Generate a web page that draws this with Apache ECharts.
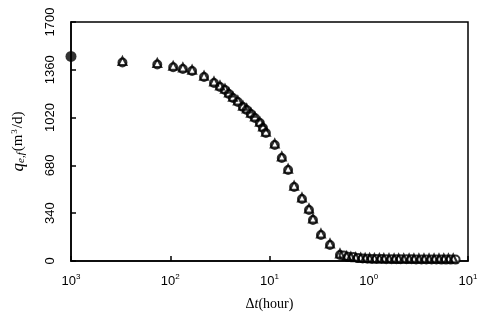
<!DOCTYPE html>
<html>
<head>
<meta charset="utf-8">
<script src="https://cdn.jsdelivr.net/npm/echarts@6/dist/echarts.min.js"></script>
<style>
  html, body { margin: 0; padding: 0; background: #fff; }
  #chart { width: 489px; height: 323px; }
</style>
</head>
<body>
<div id="chart"></div>
<script>
// measured point (filled) at start of build-up
let measuredT = [0.001];
let measuredQ = [1455];

// open circles
let circleT = [0.0033, 0.0074, 0.0107, 0.0134, 0.0166, 0.0219, 0.0276, 0.0317, 0.0356, 0.039,
  0.0428, 0.048, 0.054, 0.059, 0.065, 0.0713, 0.08, 0.086, 0.092, 0.113, 0.133,
  0.154, 0.177, 0.2125, 0.25, 0.274, 0.33, 0.407, 0.513, 0.56, 0.62, 0.7, 0.78, 0.87, 0.97,
  1.08, 1.2, 1.35, 1.5, 1.7, 1.9, 2.1, 2.4, 2.7, 3, 3.4, 3.8, 4.3, 4.8, 5.4, 6, 6.7, 7.5];
let circleQ = [1412, 1398, 1378, 1366, 1351, 1309, 1266, 1238, 1216, 1188,
  1159, 1131, 1095, 1074, 1045, 1017, 981, 946, 910, 825, 733,
  647, 526, 441, 363, 292, 185, 114, 43, 40, 30, 28, 22, 18, 16,
  15, 14, 14, 13, 13, 12, 12, 12, 12, 11, 11, 11, 11, 11, 10, 10, 10, 10];

// open triangles
let triT = [0.0033, 0.0074, 0.0107, 0.0134, 0.0166, 0.0219, 0.0276, 0.0317, 0.0356, 0.039,
  0.0428, 0.048, 0.054, 0.059, 0.065, 0.0713, 0.08, 0.086, 0.092, 0.113, 0.133,
  0.154, 0.177, 0.2125, 0.25, 0.274, 0.33, 0.407, 0.513, 0.6, 0.66, 0.74, 0.83, 0.92, 1.02,
  1.14, 1.28, 1.42, 1.6, 1.8, 2, 2.25, 2.55, 2.85, 3.2, 3.6, 4.05, 4.55, 5.1, 5.7, 6.35, 7.1];
let triQ = [1422, 1408, 1388, 1376, 1360, 1318, 1276, 1248, 1226, 1198,
  1169, 1141, 1105, 1084, 1055, 1027, 991, 956, 920, 835, 743,
  657, 536, 451, 373, 302, 195, 124, 53, 35, 30, 26, 24, 22, 21,
  20, 20, 19, 19, 18, 18, 18, 18, 18, 18, 18, 18, 18, 18, 18, 18, 18];

let xTicks = { '0.001': '3', '0.01': '2', '0.1': '1', '1': '0', '10': '1' };

function pairs(xs, ys) {
  return xs.map(function (x, i) { return [x, ys[i]]; });
}

let chart = echarts.init(document.getElementById('chart'));

let option = {
  backgroundColor: '#fff',
  animation: false,
  grid: {
    left: 71, right: 21, top: 22, bottom: 62,
    show: true, borderColor: '#000', borderWidth: 1.5, backgroundColor: 'transparent'
  },
  xAxis: {
    type: 'log',
    logBase: 10,
    min: 0.001,
    max: 10,
    name: '{d|Δ}{i|t}{n|(hour)}',
    nameLocation: 'middle',
    nameGap: 36,
    nameTextStyle: {
      rich: {
        d: { fontFamily: 'Liberation Serif', fontSize: 14, color: '#000' },
        i: { fontFamily: 'Liberation Serif', fontStyle: 'italic', fontSize: 14, color: '#000' },
        n: { fontFamily: 'Liberation Serif', fontSize: 14, color: '#000' }
      }
    },
    axisLine: { lineStyle: { color: '#000', width: 1.5 } },
    axisTick: { inside: true, length: 5, lineStyle: { color: '#000', width: 1.5 } },
    minorTick: { show: false },
    splitLine: { show: false },
    axisLabel: {
      margin: 12,
      formatter: function (v) {
        let key = String(+v.toPrecision(3));
        return '{b|10}{s|' + (xTicks[key] || '') + '}';
      },
      rich: {
        b: { fontFamily: 'Liberation Sans', fontSize: 13, color: '#000' },
        s: { fontFamily: 'Liberation Sans', fontSize: 8, color: '#000', verticalAlign: 'top', padding: [0, 0, 9, 0] }
      }
    }
  },
  yAxis: {
    type: 'value',
    min: 0,
    max: 1700,
    interval: 340,
    name: '{i|q}{s|e,f}{n|(m}{p|3}{n|/d)}',
    nameLocation: 'middle',
    nameRotate: 90,
    nameGap: 44,
    nameTextStyle: {
      rich: {
        i: { fontFamily: 'Liberation Serif', fontStyle: 'italic', fontSize: 17, color: '#000' },
        s: { fontFamily: 'Liberation Serif', fontStyle: 'italic', fontSize: 11, color: '#000', padding: [6, 1, 0, 0] },
        n: { fontFamily: 'Liberation Serif', fontSize: 15, color: '#000' },
        p: { fontFamily: 'Liberation Serif', fontSize: 9, color: '#000', padding: [0, 1, 8, 1] }
      }
    },
    axisLine: { show: true, lineStyle: { color: '#000', width: 1.5 } },
    axisTick: { inside: true, length: 5, lineStyle: { color: '#000', width: 1.5 } },
    splitLine: { show: false },
    axisLabel: {
      rotate: 90,
      margin: 14,
      fontFamily: 'Liberation Sans',
      fontSize: 13,
      color: '#000',
      formatter: function (v) { return String(v); }
    }
  },
  series: [
    {
      name: 'circle',
      type: 'scatter',
      symbol: 'circle',
      symbolSize: 8,
      itemStyle: { color: '#fff', borderColor: '#000', borderWidth: 2 },
      data: pairs(circleT, circleQ)
    },
    {
      name: 'triangle',
      type: 'scatter',
      symbol: 'triangle',
      symbolSize: 8,
      itemStyle: { color: 'rgba(255,255,255,0)', borderColor: '#000', borderWidth: 2 },
      data: pairs(triT, triQ)
    },
    {
      name: 'measured',
      type: 'scatter',
      symbol: 'circle',
      symbolSize: 11,
      itemStyle: { color: '#000' },
      data: pairs(measuredT, measuredQ)
    }
  ]
};

chart.setOption(option);
</script>
</body>
</html>
